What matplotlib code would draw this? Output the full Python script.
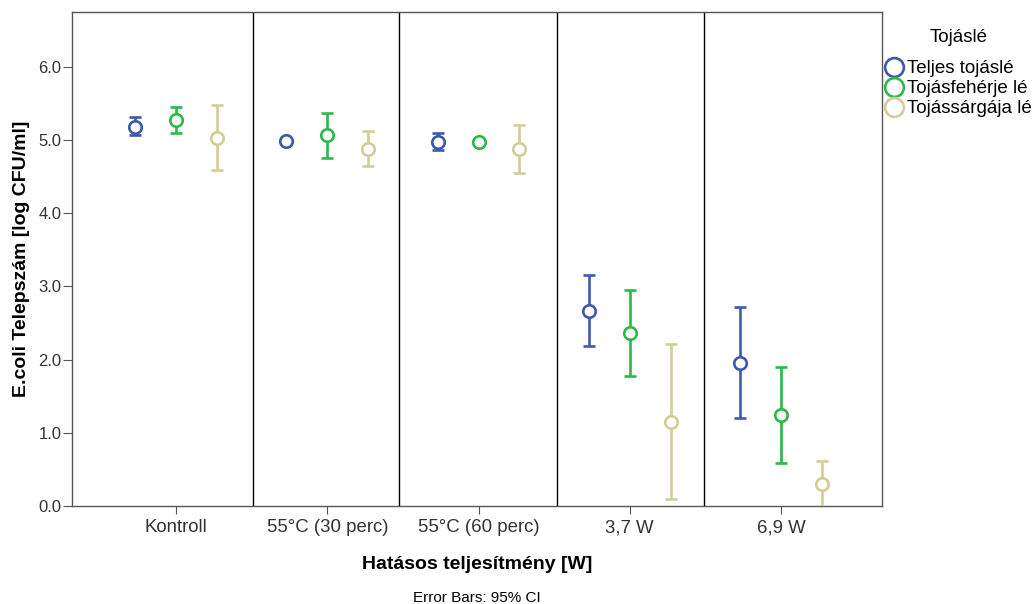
import matplotlib
matplotlib.use("Agg")
import matplotlib.pyplot as plt
from matplotlib.lines import Line2D
import numpy as np

plt.rcParams['font.family'] = ['Liberation Sans', 'DejaVu Sans']

categories = ["Kontroll", "55°C (30 perc)", "55°C (60 perc)", "3,7 W", "6,9 W"]
series = ["Teljes tojáslé", "Tojásfehérje lé", "Tojássárgája lé"]
colors = ["#3E58AC", "#2EB848", "#D3CE97"]

means = {
    "Teljes tojáslé":  [5.18, 4.99, 4.98, 2.67, 1.96],
    "Tojásfehérje lé": [5.27, 5.07, 4.98, 2.37, 1.24],
    "Tojássárgája lé": [5.03, 4.88, 4.88, 1.15, 0.30],
}
ci_low = {
    "Teljes tojáslé":  [5.07, 4.97, 4.87, 2.18, 1.20],
    "Tojásfehérje lé": [5.09, 4.76, 4.95, 1.77, 0.59],
    "Tojássárgája lé": [4.59, 4.64, 4.55, 0.10, -0.10],
}
ci_high = {
    "Teljes tojáslé":  [5.31, 5.01, 5.09, 3.16, 2.72],
    "Tojásfehérje lé": [5.45, 5.37, 5.01, 2.95, 1.90],
    "Tojássárgája lé": [5.48, 5.13, 5.21, 2.21, 0.62],
}
yticks = [0.0, 1.0, 2.0, 3.0, 4.0, 5.0, 6.0]
separators = [0.509, 1.474, 2.519, 3.491]

fig = plt.figure(figsize=(10.35, 6.04), dpi=100)
ax = fig.add_axes([72/1035, 1-506/604, (882-72)/1035, (506-12)/604])

x = np.arange(len(categories))
offsets = [-0.271, 0.0, 0.271]
for s, col, off in zip(series, colors, offsets):
    m = np.array(means[s]); lo = np.array(ci_low[s]); hi = np.array(ci_high[s])
    ax.errorbar(x + off, m, yerr=[m - lo, hi - m], fmt='o', mfc='white',
                mec=col, ecolor=col, ms=9, mew=1.9, elinewidth=1.9,
                capsize=4, capthick=1.9, zorder=3)

for sx in separators:
    ax.axvline(sx, color='black', lw=1, zorder=1)

ax.set_xlim(-0.688, 4.668)
ax.set_ylim(0, 6.75)
ax.set_xticks(x)
ax.set_xticklabels(categories, fontsize=13.4, color='#333333')
ax.set_yticks(yticks)
ax.set_yticklabels([f"{v:.1f}" for v in yticks], fontsize=12, color='#333333')
ax.tick_params(axis='y', direction='out', length=6.5, pad=1, color='#555555')
ax.tick_params(axis='x', direction='out', length=5.5, pad=4, color='#555555')
for sp in ax.spines.values():
    sp.set_color('#555555')
    sp.set_linewidth(1)

ax.set_ylabel("E.coli Telepszám [log CFU/ml]", fontsize=14, fontweight='bold', labelpad=6)
ax.set_xlabel("Hatásos teljesítmény [W]", fontsize=14, fontweight='bold', labelpad=14)
fig.text(477/1035, 1-598/604, "Error Bars: 95% CI", fontsize=11, ha='center', va='center')

handles = [Line2D([], [], marker='o', ls='none', mfc='white', mec=c, mew=1.9, ms=13.5) for c in colors]
leg = ax.legend(handles, series, loc='upper left', bbox_to_anchor=(1.0 + 4/810, 0.965),
                frameon=False, title="Tojáslé", fontsize=13.5, title_fontsize=13.5,
                handlelength=0.9, handletextpad=0.2, borderaxespad=0.0,
                borderpad=0.0, labelspacing=0.15, markerscale=1.0)
leg._legend_box.sep = 10

fig.savefig("out.png", dpi=100)
